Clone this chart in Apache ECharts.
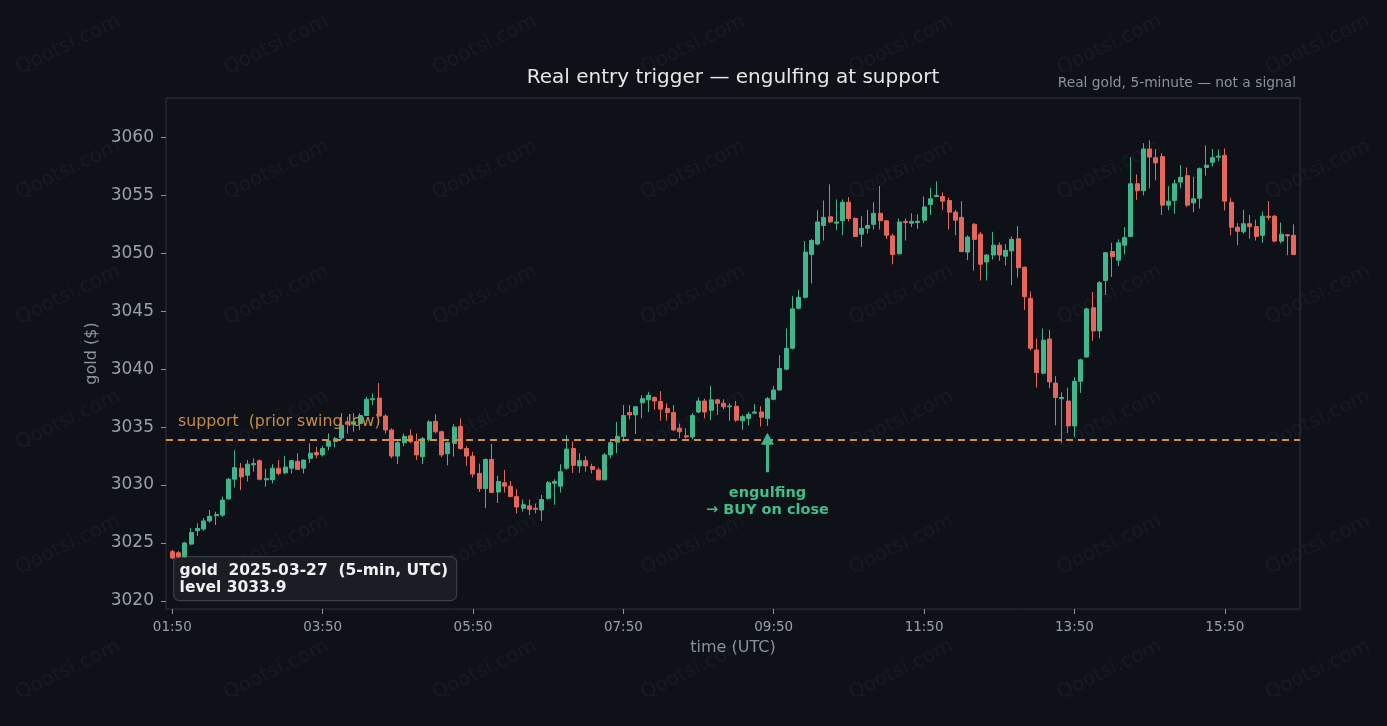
<!DOCTYPE html>
<html>
<head>
<meta charset="utf-8">
<title>Real entry trigger — engulfing at support</title>
<script src="https://cdn.jsdelivr.net/npm/echarts@6/dist/echarts.min.js"></script>
<style>
  html, body { margin: 0; padding: 0; background: #0e1117; }
  #chart { width: 1387px; height: 726px; }
</style>
</head>
<body>
<div id="chart"></div>
<script>
// gold, 2025-03-27, 5-min bars from 01:50 UTC
var opens = [
  3024.25, 3024.15, 3023.8, 3024.9, 3026.05, 3026.2, 3026.9, 3027.35, 3027.4, 3028.8,
  3030.5, 3031.45, 3030.85, 3031.75, 3032.1, 3030.45, 3030.45, 3031.45, 3031.05, 3031.45,
  3032.05, 3031.45, 3032.3, 3032.8, 3032.6, 3033.35, 3033.75, 3034.05, 3035.45, 3035.25,
  3035.3, 3036.0, 3037.35, 3037.5, 3035.95, 3034.75, 3032.5, 3033.65, 3034.25, 3033.75,
  3032.45, 3033.9, 3035.5, 3034.6, 3032.7, 3033.6, 3035.05, 3033.15, 3032.5, 3031.0,
  3029.7, 3032.2, 3029.4, 3030.2, 3029.9, 3029.0, 3028.0, 3028.2, 3028.0, 3027.85,
  3028.85, 3030.15, 3029.9, 3031.45, 3033.15, 3031.65, 3032.1, 3031.6, 3031.3, 3030.45,
  3032.6, 3033.7, 3034.2, 3036.25, 3036.05, 3037.1, 3037.35, 3037.55, 3037.2, 3036.6,
  3036.25, 3034.9, 3034.25, 3034.15, 3036.3, 3037.25, 3036.45, 3037.35, 3037.05, 3036.75,
  3036.8, 3035.55, 3035.75, 3036.2, 3036.3, 3035.75, 3037.4, 3038.2, 3040.0, 3041.8,
  3045.25, 3046.2, 3049.9, 3050.8, 3052.4, 3053.15, 3052.6, 3052.8, 3054.4, 3053.0,
  3051.65, 3052.15, 3052.5, 3053.45, 3052.8, 3051.5, 3049.95, 3052.75, 3052.6, 3052.65,
  3052.85, 3054.2, 3054.9, 3054.9, 3054.55, 3053.55, 3053.1, 3050.1, 3052.5, 3051.65,
  3049.25, 3049.85, 3050.7, 3049.75, 3050.2, 3051.25, 3048.8, 3046.1, 3041.65, 3039.65,
  3042.6, 3038.8, 3037.45, 3037.25, 3035.1, 3038.95, 3041.05, 3045.3, 3043.3, 3047.65,
  3050.15, 3049.4, 3050.7, 3051.45, 3056.0, 3055.4, 3059.0, 3058.25, 3058.35, 3054.15,
  3054.55, 3056.15, 3056.7, 3054.35, 3054.75, 3057.4, 3057.85, 3058.3, 3058.45, 3054.4,
  3052.25, 3051.85, 3052.55, 3052.3, 3051.55, 3053.2, 3053.2, 3051.05, 3051.6, 3051.55
];
var closes = [
  3023.7, 3023.8, 3025.0, 3025.9, 3026.25, 3026.9, 3027.3, 3027.45, 3028.7, 3030.5,
  3031.5, 3030.7, 3031.8, 3031.85, 3030.5, 3030.55, 3031.45, 3031.0, 3031.55, 3032.1,
  3031.35, 3032.15, 3032.75, 3032.6, 3033.15, 3033.8, 3034.0, 3035.15, 3035.25, 3035.45,
  3036.0, 3037.4, 3037.45, 3035.95, 3034.75, 3032.5, 3033.65, 3034.2, 3033.75, 3032.6,
  3034.0, 3035.45, 3034.6, 3032.6, 3033.65, 3035.0, 3033.15, 3032.5, 3030.95, 3029.7,
  3032.2, 3029.35, 3030.3, 3029.9, 3029.0, 3028.1, 3028.3, 3027.9, 3027.9, 3028.75,
  3030.2, 3030.3, 3031.15, 3033.1, 3031.7, 3032.1, 3031.65, 3031.35, 3030.45, 3032.6,
  3033.65, 3034.2, 3036.0, 3036.05, 3036.75, 3037.45, 3037.75, 3037.25, 3036.55, 3036.25,
  3034.75, 3034.6, 3034.15, 3036.0, 3037.25, 3036.3, 3037.35, 3037.05, 3036.75, 3036.82,
  3035.6, 3035.9, 3036.1, 3036.3, 3035.85, 3037.45, 3038.2, 3040.05, 3041.8, 3045.2,
  3046.2, 3050.1, 3051.1, 3052.7, 3053.1, 3052.7, 3052.7, 3054.4, 3053.0, 3051.45,
  3052.15, 3052.4, 3053.45, 3052.8, 3051.55, 3049.9, 3052.7, 3052.65, 3052.75, 3052.75,
  3054.0, 3054.7, 3055.0, 3054.5, 3053.55, 3052.85, 3050.15, 3051.4, 3051.2, 3049.05,
  3049.85, 3050.7, 3049.85, 3050.25, 3051.2, 3048.75, 3046.25, 3041.8, 3039.7, 3042.5,
  3038.9, 3037.55, 3037.55, 3035.1, 3038.95, 3040.8, 3045.2, 3043.3, 3047.45, 3050.05,
  3049.7, 3050.9, 3051.35, 3056.0, 3055.4, 3059.0, 3058.3, 3057.8, 3054.15, 3054.5,
  3056.0, 3056.55, 3054.15, 3054.7, 3057.3, 3057.6, 3058.25, 3058.38, 3054.5, 3052.25,
  3051.9, 3052.55, 3052.3, 3051.45, 3053.2, 3053.1, 3051.05, 3051.65, 3051.5, 3049.9
];
var lows = [
  3023.6, 3023.75, 3023.75, 3024.8, 3025.6, 3026.05, 3026.75, 3026.55, 3027.25, 3028.75,
  3029.8, 3029.55, 3030.3, 3031.15, 3030.4, 3029.85, 3030.15, 3030.85, 3030.95, 3031.0,
  3031.3, 3031.0, 3031.9, 3032.3, 3032.45, 3033.0, 3033.25, 3033.9, 3034.45, 3034.6,
  3034.75, 3035.95, 3036.9, 3035.9, 3034.45, 3032.3, 3031.8, 3033.35, 3033.6, 3032.15,
  3031.8, 3033.75, 3034.45, 3032.4, 3031.7, 3032.45, 3033.05, 3031.65, 3030.65, 3029.4,
  3028.0, 3029.3, 3028.45, 3029.35, 3028.95, 3027.55, 3027.7, 3027.4, 3027.55, 3026.9,
  3028.75, 3028.3, 3029.35, 3031.3, 3031.05, 3031.05, 3031.15, 3031.0, 3030.4, 3030.4,
  3032.3, 3032.75, 3033.75, 3035.65, 3034.4, 3035.75, 3036.3, 3036.5, 3035.55, 3035.55,
  3034.7, 3034.05, 3034.0, 3033.95, 3036.2, 3035.75, 3035.6, 3036.05, 3036.55, 3035.55,
  3035.45, 3034.75, 3035.15, 3036.15, 3035.05, 3035.1, 3037.3, 3038.15, 3039.9, 3041.7,
  3045.15, 3046.1, 3047.4, 3050.7, 3051.1, 3052.6, 3052.0, 3051.55, 3052.75, 3051.4,
  3050.55, 3051.7, 3052.05, 3052.05, 3051.25, 3049.05, 3049.9, 3051.1, 3052.25, 3052.1,
  3052.6, 3053.3, 3054.85, 3053.75, 3052.05, 3051.55, 3050.1, 3049.4, 3048.5, 3047.65,
  3047.65, 3049.45, 3049.35, 3048.95, 3047.25, 3047.9, 3045.1, 3041.6, 3038.4, 3039.55,
  3038.35, 3035.15, 3033.65, 3034.5, 3034.15, 3037.95, 3041.0, 3042.45, 3042.65, 3046.4,
  3047.95, 3048.9, 3049.9, 3051.4, 3054.6, 3055.0, 3055.6, 3056.3, 3053.3, 3053.7,
  3053.4, 3055.6, 3054.0, 3053.55, 3053.85, 3056.7, 3057.5, 3057.95, 3053.7, 3051.55,
  3050.7, 3051.7, 3051.25, 3051.1, 3050.9, 3052.85, 3050.95, 3050.85, 3049.85, 3049.85
];
var highs = [
  3024.4, 3024.3, 3025.1, 3026.3, 3026.7, 3027.15, 3027.85, 3027.7, 3029.0, 3030.6,
  3033.0, 3031.9, 3032.15, 3032.3, 3032.2, 3031.4, 3031.8, 3032.15, 3032.5, 3032.15,
  3032.75, 3032.2, 3033.6, 3033.3, 3033.35, 3034.45, 3034.15, 3036.2, 3035.9, 3036.2,
  3036.2, 3037.6, 3037.9, 3038.8, 3036.1, 3034.9, 3033.9, 3034.45, 3034.8, 3034.45,
  3034.15, 3035.6, 3036.1, 3034.7, 3033.75, 3035.25, 3035.75, 3033.35, 3032.85, 3031.85,
  3032.3, 3033.55, 3030.8, 3031.3, 3030.35, 3029.65, 3028.75, 3028.75, 3028.4, 3029.15,
  3030.35, 3030.5, 3031.8, 3034.3, 3033.75, 3032.75, 3032.5, 3031.85, 3031.5, 3032.75,
  3033.9, 3035.45, 3036.9, 3036.9, 3036.8, 3037.75, 3038.05, 3037.65, 3038.1, 3037.05,
  3036.9, 3035.3, 3034.9, 3036.2, 3037.55, 3037.45, 3038.55, 3037.45, 3037.4, 3037.05,
  3037.25, 3036.05, 3036.3, 3037.0, 3036.8, 3037.6, 3038.55, 3041.2, 3043.5, 3046.3,
  3046.85, 3051.05, 3051.25, 3053.7, 3054.55, 3055.95, 3054.65, 3054.65, 3054.85, 3053.1,
  3053.2, 3053.75, 3054.4, 3055.8, 3052.85, 3051.7, 3053.0, 3053.0, 3053.45, 3053.35,
  3054.9, 3055.65, 3056.2, 3055.25, 3054.8, 3053.75, 3054.5, 3051.55, 3052.6, 3051.85,
  3049.9, 3051.85, 3050.95, 3050.8, 3051.45, 3052.35, 3048.85, 3046.7, 3042.65, 3043.5,
  3043.4, 3039.4, 3038.0, 3038.4, 3039.3, 3040.9, 3045.3, 3046.65, 3047.6, 3050.1,
  3050.9, 3051.2, 3052.25, 3058.3, 3056.8, 3059.5, 3059.75, 3059.0, 3058.65, 3055.8,
  3056.35, 3057.6, 3057.4, 3056.6, 3057.4, 3059.3, 3059.0, 3058.95, 3059.05, 3054.8,
  3052.6, 3053.75, 3053.3, 3052.9, 3053.6, 3054.5, 3053.3, 3052.65, 3051.65, 3052.5
];

var startTime = '01:50';
var barMinutes = 5;
var tickLabels = ['01:50', '03:50', '05:50', '07:50', '09:50', '11:50', '13:50', '15:50'];
var yTicks = [3020, 3025, 3030, 3035, 3040, 3045, 3050, 3055, 3060];
var supportLevel = 3033.9;
var triggerBar = 95;

var GREEN = '#3fb68b';
var RED = '#e5665a';
var ORANGE = '#d88f3f';

function timeLabel(k) {
    var p = startTime.split(':');
    var m = (+p[0]) * 60 + (+p[1]) + k * barMinutes;
    m = ((m % 1440) + 1440) % 1440;
    var h = Math.floor(m / 60), mm = m % 60;
    return (h < 10 ? '0' : '') + h + ':' + (mm < 10 ? '0' : '') + mm;
}

// one empty slot on each side so the bars sit inside the frame
var cats = [];
var candles = [];
cats.push(timeLabel(-1));
candles.push(['-', '-', '-', '-']);
for (var i = 0; i < opens.length; i++) {
    cats.push(timeLabel(i));
    candles.push([opens[i], closes[i], lows[i], highs[i]]);
}
cats.push(timeLabel(opens.length));
candles.push(['-', '-', '-', '-']);

function isTick(idx, val) {
    return tickLabels.indexOf(val) >= 0 && idx > 0 && idx < cats.length - 1;
}

// faint watermark
var marks = [];
for (var c = 0; c < 7; c++) {
    for (var r = 0; r < 6; r++) {
        marks.push({
            type: 'text',
            x: 68 + c * 208.3,
            y: 45 + r * 125,
            rotation: Math.PI / 7,
            z: 0,
            style: {
                text: 'Qootsi.com',
                fill: 'rgba(255,255,255,0.04)',
                font: '20px "DejaVu Sans"',
                textAlign: 'center',
                textVerticalAlign: 'middle'
            }
        });
    }
}

var dom = document.getElementById('chart');
var myChart = echarts.init(dom, null, { renderer: 'canvas' });

var option = {
    backgroundColor: '#0e1117',
    animation: false,
    textStyle: { fontFamily: 'DejaVu Sans' },
    grid: {
        left: 166, right: 87, top: 98, bottom: 117,
        show: true,
        borderColor: '#2e333a',
        borderWidth: 1
    },
    graphic: marks.concat([
        {
            type: 'text', x: 733, y: 78, z: 10,
            style: {
                text: 'Real entry trigger — engulfing at support',
                fill: '#e6e6e6', font: '20px "DejaVu Sans"',
                textAlign: 'center', textVerticalAlign: 'middle'
            }
        },
        {
            type: 'text', x: 1296, y: 83, z: 10,
            style: {
                text: 'Real gold, 5-minute — not a signal',
                fill: '#8b929a', font: '13.8px "DejaVu Sans"',
                textAlign: 'right', textVerticalAlign: 'middle'
            }
        },
        {
            type: 'group', left: 173, top: 556, z: 20,
            children: [
                {
                    type: 'rect',
                    shape: { x: 0, y: 0, width: 283, height: 44, r: 6 },
                    style: { fill: '#1a1d23', stroke: '#3a3f47', lineWidth: 1.2 }
                },
                {
                    type: 'text', x: 6, y: 5.5,
                    style: {
                        text: 'gold  2025-03-27  (5-min, UTC)\nlevel ' + supportLevel.toFixed(1),
                        fill: '#f0f0f0', font: 'bold 15.5px "DejaVu Sans"',
                        lineHeight: 17.5
                    }
                }
            ]
        }
    ]),
    xAxis: {
        type: 'category',
        data: cats,
        boundaryGap: false,
        name: 'time (UTC)',
        nameLocation: 'middle',
        nameGap: 31,
        nameTextStyle: { color: '#8b929a', fontSize: 16 },
        axisLine: { show: false },
        axisTick: {
            show: true, length: 5, interval: isTick,
            lineStyle: { color: '#8b929a' }
        },
        axisLabel: {
            interval: isTick,
            color: '#9aa0a8', fontSize: 13.5, margin: 11
        },
        splitLine: { show: false }
    },
    yAxis: {
        type: 'value',
        min: 3019.3,
        max: 3063.4,
        name: 'gold ($)',
        nameLocation: 'middle',
        nameRotate: 90,
        nameGap: 66,
        nameTextStyle: { color: '#8b929a', fontSize: 16 },
        axisLine: { show: false },
        axisTick: {
            show: true, length: 5, customValues: yTicks,
            lineStyle: { color: '#8b929a' }
        },
        axisLabel: {
            customValues: yTicks,
            formatter: function (v) { return String(v); },
            color: '#9aa0a8', fontSize: 17, margin: 12
        },
        splitLine: { show: false }
    },
    series: [{
        name: 'gold',
        type: 'candlestick',
        data: candles,
        barWidth: '72%',
        itemStyle: {
            color: GREEN,
            color0: RED,
            borderColor: GREEN,
            borderColor0: RED,
            borderWidth: 1
        },
        markLine: {
            silent: true,
            symbol: ['none', 'none'],
            data: [
                {
                    yAxis: supportLevel,
                    lineStyle: { color: ORANGE, type: [7, 5], width: 1.8 },
                    label: {
                        show: true,
                        position: 'insideStartTop',
                        formatter: 'support  (prior swing low)',
                        color: '#c98a45',
                        fontSize: 15.8,
                        distance: [12, 10]
                    }
                },
                [
                    { coord: [cats[triggerBar + 1], 3031.1], symbol: 'none' },
                    {
                        coord: [cats[triggerBar + 1], 3034.0],
                        symbol: 'triangle', symbolSize: [13, 12], symbolRotate: 0
                    }
                ]
            ],
            lineStyle: { color: GREEN, type: 'solid', width: 3 },
            label: { show: false }
        },
        markPoint: {
            silent: true,
            data: [{
                coord: [cats[triggerBar + 1], 3028.6],
                symbol: 'rect', symbolSize: 1,
                itemStyle: { color: 'rgba(0,0,0,0)' },
                label: {
                    show: true,
                    position: 'inside',
                    formatter: 'engulfing\n→ BUY on close',
                    color: '#3fbf8a',
                    fontWeight: 'bold',
                    fontSize: 14.5,
                    lineHeight: 17,
                    align: 'center'
                }
            }]
        }
    }]
};

myChart.setOption(option);
</script>
</body>
</html>
